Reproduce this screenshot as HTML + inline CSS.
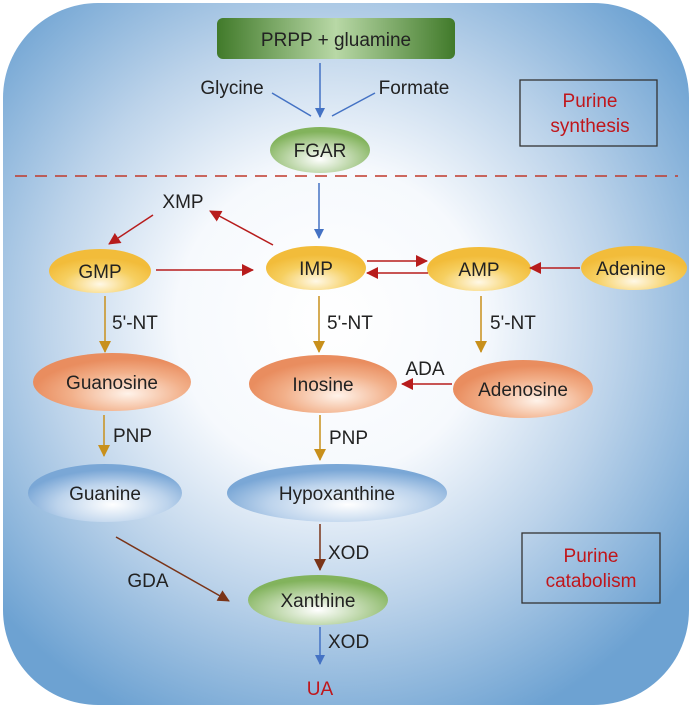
<!DOCTYPE html>
<html><head><style>
html,body{margin:0;padding:0;background:#fff;}
svg{display:block;}
text{font-family:"Liberation Sans",sans-serif;font-size:19px;fill:#222;}
</style></head><body>
<svg width="692" height="708" viewBox="0 0 692 708" xmlns="http://www.w3.org/2000/svg">
<defs>
<radialGradient id="bg" cx="330" cy="320" r="440" gradientUnits="userSpaceOnUse">
<stop offset="0" stop-color="#ffffff"/><stop offset="0.35" stop-color="#f6f9fd"/><stop offset="0.65" stop-color="#bcd3ea"/><stop offset="1" stop-color="#6da2d2"/>
</radialGradient>
<linearGradient id="gbox" x1="0" x2="1" y1="0" y2="0">
<stop offset="0" stop-color="#417a2a"/><stop offset="0.5" stop-color="#b8d8a6"/><stop offset="1" stop-color="#417a2a"/>
</linearGradient>
<radialGradient id="green" cx="0.5" cy="0.7" r="0.6"><stop offset="0" stop-color="#ffffff"/><stop offset="1" stop-color="#82b35c"/></radialGradient>
<radialGradient id="yel" cx="0.5" cy="0.8" r="0.6"><stop offset="0" stop-color="#fff8e6"/><stop offset="0.6" stop-color="#f6cf60"/><stop offset="1" stop-color="#f2bc3a"/></radialGradient>
<radialGradient id="org" cx="0.6" cy="0.7" r="0.6"><stop offset="0" stop-color="#fff3ea"/><stop offset="0.6" stop-color="#f2b08a"/><stop offset="1" stop-color="#e98d5f"/></radialGradient>
<radialGradient id="blu" cx="0.55" cy="0.7" r="0.6"><stop offset="0" stop-color="#ffffff"/><stop offset="0.6" stop-color="#bcd3ec"/><stop offset="1" stop-color="#7aa7d6"/></radialGradient>
<marker id="ab" markerWidth="10" markerHeight="10" refX="9" refY="5" orient="auto" markerUnits="userSpaceOnUse"><path d="M0,0 L10,5 L0,10 z" fill="#4472c4"/></marker>
<marker id="ar" markerWidth="12" markerHeight="12" refX="11" refY="6" orient="auto" markerUnits="userSpaceOnUse"><path d="M0,0 L12,6 L0,12 z" fill="#b71c1c"/></marker>
<marker id="ao" markerWidth="12" markerHeight="12" refX="11" refY="6" orient="auto" markerUnits="userSpaceOnUse"><path d="M0,0 L12,6 L0,12 z" fill="#c8901c"/></marker>
<marker id="an" markerWidth="12" markerHeight="12" refX="11" refY="6" orient="auto" markerUnits="userSpaceOnUse"><path d="M0,0 L12,6 L0,12 z" fill="#7a3418"/></marker>
</defs>
<rect x="3" y="3" width="686" height="702" rx="95" fill="url(#bg)"/>
<rect x="217" y="18" width="238" height="41" rx="6" fill="url(#gbox)"/>
<text x="336" y="46" text-anchor="middle">PRPP + gluamine</text>
<line x1="320" y1="63" x2="320" y2="117" stroke="#4472c4" stroke-width="1.5" marker-end="url(#ab)"/>
<text x="232" y="94" text-anchor="middle">Glycine</text>
<text x="414" y="94" text-anchor="middle">Formate</text>
<line x1="272" y1="93" x2="311" y2="116" stroke="#4472c4" stroke-width="1.5"/>
<line x1="375" y1="93" x2="332" y2="116" stroke="#4472c4" stroke-width="1.5"/>
<ellipse cx="320" cy="150" rx="50" ry="23" fill="url(#green)"/>
<text x="320" y="157" text-anchor="middle">FGAR</text>
<rect x="520" y="80" width="137" height="66" fill="none" stroke="#333" stroke-width="1.3"/>
<text x="590" y="107" text-anchor="middle" style="fill:#c0161b">Purine</text>
<text x="590" y="132" text-anchor="middle" style="fill:#c0161b">synthesis</text>
<line x1="15" y1="176" x2="678" y2="176" stroke="#c0392b" stroke-width="1.5" stroke-dasharray="12,8"/>
<line x1="319" y1="183" x2="319" y2="238" stroke="#4472c4" stroke-width="1.5" marker-end="url(#ab)"/>
<text x="183" y="208" text-anchor="middle">XMP</text>
<line x1="273" y1="245" x2="210" y2="211" stroke="#b71c1c" stroke-width="1.5" marker-end="url(#ar)"/>
<line x1="153" y1="215" x2="109" y2="244" stroke="#b71c1c" stroke-width="1.5" marker-end="url(#ar)"/>
<ellipse cx="100" cy="271" rx="51" ry="22" fill="url(#yel)"/>
<text x="100" y="278" text-anchor="middle">GMP</text>
<ellipse cx="316" cy="268" rx="50" ry="22" fill="url(#yel)"/>
<text x="316" y="275" text-anchor="middle">IMP</text>
<ellipse cx="479" cy="269" rx="52" ry="22" fill="url(#yel)"/>
<text x="479" y="276" text-anchor="middle">AMP</text>
<ellipse cx="634" cy="268" rx="53" ry="22" fill="url(#yel)"/>
<text x="631" y="275" text-anchor="middle">Adenine</text>
<line x1="156" y1="270" x2="253" y2="270" stroke="#b71c1c" stroke-width="1.5" marker-end="url(#ar)"/>
<line x1="367" y1="261" x2="427" y2="261" stroke="#b71c1c" stroke-width="1.5" marker-end="url(#ar)"/>
<line x1="428" y1="273" x2="367" y2="273" stroke="#b71c1c" stroke-width="1.5" marker-end="url(#ar)"/>
<line x1="580" y1="268" x2="530" y2="268" stroke="#b71c1c" stroke-width="1.5" marker-end="url(#ar)"/>
<line x1="105" y1="296" x2="105" y2="352" stroke="#c8901c" stroke-width="1.5" marker-end="url(#ao)"/>
<line x1="319" y1="296" x2="319" y2="352" stroke="#c8901c" stroke-width="1.5" marker-end="url(#ao)"/>
<line x1="481" y1="296" x2="481" y2="352" stroke="#c8901c" stroke-width="1.5" marker-end="url(#ao)"/>
<text x="112" y="329">5'-NT</text>
<text x="327" y="329">5'-NT</text>
<text x="490" y="329">5'-NT</text>
<ellipse cx="112" cy="382" rx="79" ry="29" fill="url(#org)"/>
<text x="112" y="389" text-anchor="middle">Guanosine</text>
<ellipse cx="323" cy="384" rx="74" ry="29" fill="url(#org)"/>
<text x="323" y="391" text-anchor="middle">Inosine</text>
<ellipse cx="523" cy="389" rx="70" ry="29" fill="url(#org)"/>
<text x="523" y="396" text-anchor="middle">Adenosine</text>
<text x="425" y="375" text-anchor="middle">ADA</text>
<line x1="452" y1="384" x2="402" y2="384" stroke="#b71c1c" stroke-width="1.5" marker-end="url(#ar)"/>
<line x1="104" y1="415" x2="104" y2="456" stroke="#c8901c" stroke-width="1.5" marker-end="url(#ao)"/>
<line x1="320" y1="415" x2="320" y2="460" stroke="#c8901c" stroke-width="1.5" marker-end="url(#ao)"/>
<text x="113" y="442">PNP</text>
<text x="329" y="444">PNP</text>
<ellipse cx="105" cy="493" rx="77" ry="29" fill="url(#blu)"/>
<text x="105" y="500" text-anchor="middle">Guanine</text>
<ellipse cx="337" cy="493" rx="110" ry="29" fill="url(#blu)"/>
<text x="337" y="500" text-anchor="middle">Hypoxanthine</text>
<line x1="320" y1="524" x2="320" y2="570" stroke="#7a3418" stroke-width="1.5" marker-end="url(#an)"/>
<text x="328" y="559">XOD</text>
<line x1="116" y1="537" x2="229" y2="601" stroke="#7a3418" stroke-width="1.5" marker-end="url(#an)"/>
<text x="148" y="587" text-anchor="middle">GDA</text>
<ellipse cx="318" cy="600" rx="70" ry="25" fill="url(#green)"/>
<text x="318" y="607" text-anchor="middle">Xanthine</text>
<rect x="522" y="533" width="138" height="70" fill="none" stroke="#333" stroke-width="1.3"/>
<text x="591" y="562" text-anchor="middle" style="fill:#c0161b">Purine</text>
<text x="591" y="587" text-anchor="middle" style="fill:#c0161b">catabolism</text>
<line x1="320" y1="627" x2="320" y2="664" stroke="#4472c4" stroke-width="1.5" marker-end="url(#ab)"/>
<text x="328" y="648">XOD</text>
<text x="320" y="695" text-anchor="middle" style="fill:#c0161b">UA</text>
</svg>
</body></html>
